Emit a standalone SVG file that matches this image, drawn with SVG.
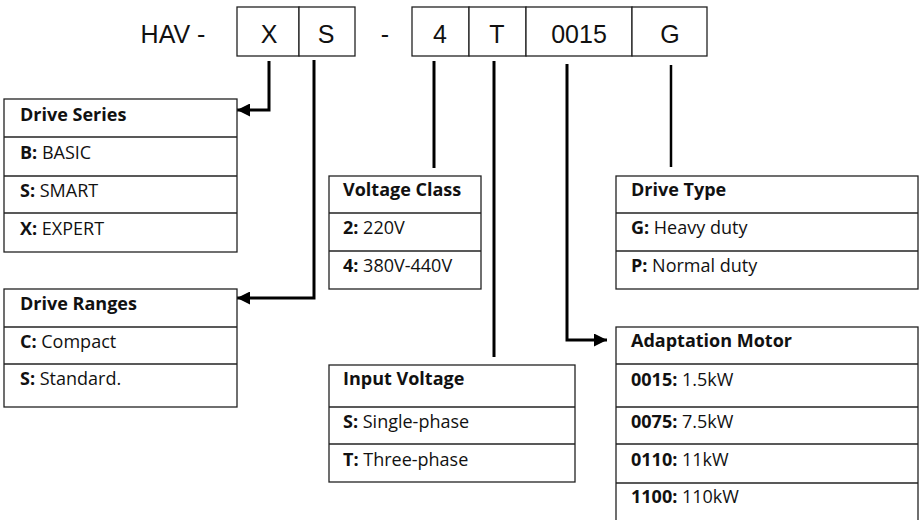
<svg xmlns="http://www.w3.org/2000/svg" width="922" height="520" viewBox="0 0 922 520">
  <defs>
    <marker id="arr" markerUnits="userSpaceOnUse" markerWidth="13" markerHeight="13" refX="13" refY="6.5" orient="auto">
      <path d="M0,0 L13,6.5 L0,13 Z" fill="#000"/>
    </marker>
    <style>
      .code { fill: #fff; stroke: #222; stroke-width: 1.3; }
      .ct { font-family: "Liberation Sans", Arial, sans-serif; font-size: 25px; fill: #111; text-anchor: middle; }
      .box { fill: #fff; stroke: #222; stroke-width: 1.3; }
      .sep { stroke: #222; stroke-width: 1.3; }
      .t { font-family: "Open Sans", "Noto Sans", sans-serif; font-size: 18px; fill: #111; }
      .h { font-weight: bold; }
      .b { font-weight: bold; }
      .con { fill: none; stroke: #000; stroke-width: 3; }
    </style>
  </defs>
  <rect width="922" height="520" fill="#fff"/>

  <g id="model-code">
    <text class="ct" x="173" y="43">HAV -</text>
    <rect class="code" x="237" y="7" width="62" height="49"/>
    <rect class="code" x="299" y="7" width="56" height="49"/>
    <text class="ct" x="269" y="43">X</text>
    <text class="ct" x="326" y="43">S</text>
    <text class="ct" x="385" y="43">-</text>
    <rect class="code" x="412" y="7" width="57" height="49"/>
    <rect class="code" x="469" y="7" width="57" height="49"/>
    <rect class="code" x="526" y="7" width="106" height="49"/>
    <rect class="code" x="632" y="7" width="75" height="49"/>
    <text class="ct" x="440" y="43">4</text>
    <text class="ct" x="497" y="43">T</text>
    <text class="ct" x="579" y="43">0015</text>
    <text class="ct" x="670" y="43">G</text>
  </g>

  <g id="connectors">
    <path class="con" d="M269,61 V110 H237" marker-end="url(#arr)"/>
    <path class="con" d="M314,60 V298 H237" marker-end="url(#arr)"/>
    <path class="con" d="M434,61 V168"/>
    <path class="con" d="M494,61 V357"/>
    <path class="con" d="M567,64 V340 H607" marker-end="url(#arr)"/>
    <path class="con" d="M671,65 V167" style="stroke-width:2.5"/>
  </g>

  <g id="drive-series">
    <rect class="box" x="4" y="99" width="233" height="153"/>
    <line class="sep" x1="4" y1="137" x2="237" y2="137"/>
    <line class="sep" x1="4" y1="176" x2="237" y2="176"/>
    <line class="sep" x1="4" y1="213" x2="237" y2="213"/>
    <text class="t h" x="20" y="121">Drive Series</text>
    <text class="t" x="20" y="159"><tspan class="b">B:</tspan> BASIC</text>
    <text class="t" x="20" y="197"><tspan class="b">S:</tspan> SMART</text>
    <text class="t" x="20" y="235"><tspan class="b">X:</tspan> EXPERT</text>
  </g>

  <g id="drive-ranges">
    <rect class="box" x="4" y="289" width="233" height="118"/>
    <line class="sep" x1="4" y1="327" x2="237" y2="327"/>
    <line class="sep" x1="4" y1="364" x2="237" y2="364"/>
    <text class="t h" x="20" y="310">Drive Ranges</text>
    <text class="t" x="20" y="348"><tspan class="b">C:</tspan> Compact</text>
    <text class="t" x="20" y="385"><tspan class="b">S:</tspan> Standard.</text>
  </g>

  <g id="voltage-class">
    <rect class="box" x="329" y="176" width="152" height="113"/>
    <line class="sep" x1="329" y1="213" x2="481" y2="213"/>
    <line class="sep" x1="329" y1="251" x2="481" y2="251"/>
    <text class="t h" x="343" y="196">Voltage Class</text>
    <text class="t" x="343" y="234"><tspan class="b">2:</tspan> 220V</text>
    <text class="t" x="343" y="272"><tspan class="b">4:</tspan> 380V-440V</text>
  </g>

  <g id="input-voltage">
    <rect class="box" x="329" y="365" width="246" height="117"/>
    <line class="sep" x1="329" y1="407" x2="575" y2="407"/>
    <line class="sep" x1="329" y1="444" x2="575" y2="444"/>
    <text class="t h" x="343" y="385">Input Voltage</text>
    <text class="t" x="343" y="428"><tspan class="b">S:</tspan> Single-phase</text>
    <text class="t" x="343" y="466"><tspan class="b">T:</tspan> Three-phase</text>
  </g>

  <g id="drive-type">
    <rect class="box" x="616" y="176" width="302" height="113"/>
    <line class="sep" x1="616" y1="213" x2="918" y2="213"/>
    <line class="sep" x1="616" y1="251" x2="918" y2="251"/>
    <text class="t h" x="631" y="196">Drive Type</text>
    <text class="t" x="631" y="234"><tspan class="b">G:</tspan> Heavy duty</text>
    <text class="t" x="631" y="272"><tspan class="b">P:</tspan> Normal duty</text>
  </g>

  <g id="adaptation-motor">
    <rect class="box" x="616" y="327" width="302" height="196"/>
    <line class="sep" x1="616" y1="364" x2="918" y2="364"/>
    <line class="sep" x1="616" y1="407" x2="918" y2="407"/>
    <line class="sep" x1="616" y1="444" x2="918" y2="444"/>
    <line class="sep" x1="616" y1="483" x2="918" y2="483"/>
    <text class="t h" x="631" y="347">Adaptation Motor</text>
    <text class="t" x="631" y="386"><tspan class="b">0015:</tspan> 1.5kW</text>
    <text class="t" x="631" y="428"><tspan class="b">0075:</tspan> 7.5kW</text>
    <text class="t" x="631" y="466"><tspan class="b">0110:</tspan> 11kW</text>
    <text class="t" x="631" y="503"><tspan class="b">1100:</tspan> 110kW</text>
  </g>
</svg>
